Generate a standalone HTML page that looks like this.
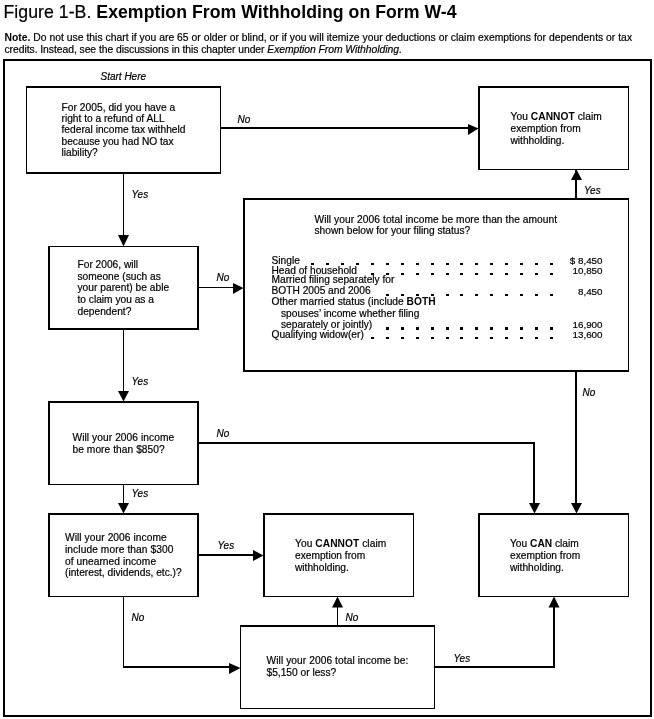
<!DOCTYPE html>
<html><head><meta charset="utf-8"><style>
html,body{margin:0;padding:0;background:#fff;}
body{width:654px;height:719px;overflow:hidden;}
svg{display:block;will-change:transform;}
text{font-family:"Liberation Sans",sans-serif;fill:#000;stroke:#000;stroke-width:0.2px;}
tspan[font-weight="bold"]{stroke-width:0;}
</style></head><body>
<svg width="654" height="719" viewBox="0 0 654 719">
<rect x="0" y="0" width="654" height="719" fill="#fff"/>
<g fill="#000" shape-rendering="crispEdges">
<rect x="3" y="59" width="649" height="2"/>
<rect x="3" y="715" width="649" height="2"/>
<rect x="3" y="59" width="2" height="658"/>
<rect x="650" y="59" width="2" height="658"/>
<rect x="26" y="86" width="195" height="2"/>
<rect x="26" y="172" width="195" height="2"/>
<rect x="26" y="86" width="1" height="88"/>
<rect x="220" y="86" width="1" height="88"/>
<rect x="478" y="86" width="151" height="2"/>
<rect x="478" y="169" width="151" height="1"/>
<rect x="478" y="86" width="2" height="84"/>
<rect x="628" y="86" width="1" height="84"/>
<rect x="48" y="246" width="151" height="1"/>
<rect x="48" y="328" width="151" height="2"/>
<rect x="48" y="246" width="2" height="84"/>
<rect x="197" y="246" width="2" height="84"/>
<rect x="243" y="198" width="386" height="2"/>
<rect x="243" y="370" width="386" height="2"/>
<rect x="243" y="198" width="2" height="174"/>
<rect x="628" y="198" width="1" height="174"/>
<rect x="48" y="401" width="151" height="2"/>
<rect x="48" y="484" width="151" height="1"/>
<rect x="48" y="401" width="2" height="84"/>
<rect x="197" y="401" width="2" height="84"/>
<rect x="48" y="513" width="151" height="2"/>
<rect x="48" y="596" width="151" height="1"/>
<rect x="48" y="513" width="2" height="84"/>
<rect x="197" y="513" width="2" height="84"/>
<rect x="263" y="513" width="151" height="2"/>
<rect x="263" y="596" width="151" height="1"/>
<rect x="263" y="513" width="2" height="84"/>
<rect x="413" y="513" width="1" height="84"/>
<rect x="478" y="513" width="151" height="2"/>
<rect x="478" y="596" width="151" height="1"/>
<rect x="478" y="513" width="2" height="84"/>
<rect x="628" y="513" width="1" height="84"/>
<rect x="240" y="625" width="195" height="2"/>
<rect x="240" y="708" width="195" height="1"/>
<rect x="240" y="625" width="1" height="84"/>
<rect x="434" y="625" width="1" height="84"/>
<rect x="221" y="127" width="250" height="2"/>
<rect x="123" y="174" width="1" height="67"/>
<rect x="199" y="287" width="38" height="1"/>
<rect x="575" y="170" width="2" height="28"/>
<rect x="123" y="330" width="1" height="66"/>
<rect x="575" y="372" width="2" height="135"/>
<rect x="199" y="442" width="336" height="2"/>
<rect x="533" y="442" width="2" height="65"/>
<rect x="123" y="485" width="1" height="22"/>
<rect x="199" y="554" width="58" height="2"/>
<rect x="123" y="597" width="1" height="71"/>
<rect x="123" y="666" width="110" height="2"/>
<rect x="337" y="600" width="1" height="25"/>
<rect x="435" y="666" width="120" height="2"/>
<rect x="553" y="600" width="2" height="68"/>
<rect x="311" y="263" width="3" height="2"/>
<rect x="326" y="263" width="3" height="2"/>
<rect x="341" y="263" width="3" height="2"/>
<rect x="356" y="263" width="3" height="2"/>
<rect x="371" y="263" width="3" height="2"/>
<rect x="386" y="263" width="3" height="2"/>
<rect x="401" y="263" width="3" height="2"/>
<rect x="416" y="263" width="3" height="2"/>
<rect x="431" y="263" width="3" height="2"/>
<rect x="446" y="263" width="3" height="2"/>
<rect x="460" y="263" width="3" height="2"/>
<rect x="475" y="263" width="3" height="2"/>
<rect x="490" y="263" width="3" height="2"/>
<rect x="505" y="263" width="3" height="2"/>
<rect x="520" y="263" width="3" height="2"/>
<rect x="535" y="263" width="3" height="2"/>
<rect x="550" y="263" width="3" height="2"/>
<rect x="371" y="273" width="3" height="2"/>
<rect x="386" y="273" width="3" height="2"/>
<rect x="401" y="273" width="3" height="2"/>
<rect x="416" y="273" width="3" height="2"/>
<rect x="431" y="273" width="3" height="2"/>
<rect x="446" y="273" width="3" height="2"/>
<rect x="460" y="273" width="3" height="2"/>
<rect x="475" y="273" width="3" height="2"/>
<rect x="490" y="273" width="3" height="2"/>
<rect x="505" y="273" width="3" height="2"/>
<rect x="520" y="273" width="3" height="2"/>
<rect x="535" y="273" width="3" height="2"/>
<rect x="550" y="273" width="3" height="2"/>
<rect x="386" y="294" width="3" height="2"/>
<rect x="401" y="294" width="3" height="2"/>
<rect x="416" y="294" width="3" height="2"/>
<rect x="431" y="294" width="3" height="2"/>
<rect x="446" y="294" width="3" height="2"/>
<rect x="460" y="294" width="3" height="2"/>
<rect x="475" y="294" width="3" height="2"/>
<rect x="490" y="294" width="3" height="2"/>
<rect x="505" y="294" width="3" height="2"/>
<rect x="520" y="294" width="3" height="2"/>
<rect x="535" y="294" width="3" height="2"/>
<rect x="550" y="294" width="3" height="2"/>
<rect x="386" y="327" width="3" height="3"/>
<rect x="401" y="327" width="3" height="3"/>
<rect x="416" y="327" width="3" height="3"/>
<rect x="431" y="327" width="3" height="3"/>
<rect x="446" y="327" width="3" height="3"/>
<rect x="460" y="327" width="3" height="3"/>
<rect x="475" y="327" width="3" height="3"/>
<rect x="490" y="327" width="3" height="3"/>
<rect x="505" y="327" width="3" height="3"/>
<rect x="520" y="327" width="3" height="3"/>
<rect x="535" y="327" width="3" height="3"/>
<rect x="550" y="327" width="3" height="3"/>
<rect x="371" y="337" width="3" height="2"/>
<rect x="386" y="337" width="3" height="2"/>
<rect x="401" y="337" width="3" height="2"/>
<rect x="416" y="337" width="3" height="2"/>
<rect x="431" y="337" width="3" height="2"/>
<rect x="446" y="337" width="3" height="2"/>
<rect x="460" y="337" width="3" height="2"/>
<rect x="475" y="337" width="3" height="2"/>
<rect x="490" y="337" width="3" height="2"/>
<rect x="505" y="337" width="3" height="2"/>
<rect x="520" y="337" width="3" height="2"/>
<rect x="535" y="337" width="3" height="2"/>
<rect x="550" y="337" width="3" height="2"/>
</g>
<g fill="#000">
<polygon points="468,124 478.5,128.5 468,135"/>
<polygon points="233,283 243.5,288 233,294"/>
<polygon points="253,550 263.5,555.5 253,561"/>
<polygon points="229,663 240.5,668 229,674"/>
<polygon points="118,235 129,235 123.5,246.5"/>
<polygon points="118,391 129,391 123.5,401.5"/>
<polygon points="118,503 129,503 123.5,513.5"/>
<polygon points="529,503 540,503 534.5,513.5"/>
<polygon points="571,503 582,503 576.5,513.5"/>
<polygon points="571,180 582,180 576.5,169.5"/>
<polygon points="332,607.5 343,607.5 337.5,596.5"/>
<polygon points="548.5,607.5 559.5,607.5 554.0,596.5"/>
</g>
<text id="t0" x="3.5" y="18" font-size="17.7" font-weight="normal" font-style="normal" text-anchor="start" textLength="453.12" lengthAdjust="spacing">Figure 1-B. <tspan font-weight="bold">Exemption From Withholding on Form W-4</tspan></text>
<text id="t1" x="4.5" y="40.5" font-size="10.35" font-weight="normal" font-style="normal" text-anchor="start" textLength="627.55" lengthAdjust="spacing"><tspan font-weight="bold">Note.</tspan> Do not use this chart if you are 65 or older or blind, or if you will itemize your deductions or claim exemptions for dependents or tax</text>
<text id="t2" x="4.5" y="52.5" font-size="10.35" font-weight="normal" font-style="normal" text-anchor="start" textLength="397.23" lengthAdjust="spacing">credits. Instead, see the discussions in this chapter under <tspan font-style="italic">Exemption From Withholding</tspan>.</text>
<text id="t3" x="100.5" y="80" font-size="10.0" font-weight="normal" font-style="italic" text-anchor="start">Start Here</text>
<text id="t4" x="237.5" y="123" font-size="10.0" font-weight="normal" font-style="italic" text-anchor="start">No</text>
<text id="t5" x="131.5" y="198" font-size="10.0" font-weight="normal" font-style="italic" text-anchor="start">Yes</text>
<text id="t6" x="584" y="193.5" font-size="10.0" font-weight="normal" font-style="italic" text-anchor="start">Yes</text>
<text id="t7" x="216.5" y="281" font-size="10.0" font-weight="normal" font-style="italic" text-anchor="start">No</text>
<text id="t8" x="131.5" y="385" font-size="10.0" font-weight="normal" font-style="italic" text-anchor="start">Yes</text>
<text id="t9" x="582.5" y="396" font-size="10.0" font-weight="normal" font-style="italic" text-anchor="start">No</text>
<text id="t10" x="216.5" y="437" font-size="10.0" font-weight="normal" font-style="italic" text-anchor="start">No</text>
<text id="t11" x="131.5" y="497" font-size="10.0" font-weight="normal" font-style="italic" text-anchor="start">Yes</text>
<text id="t12" x="217.5" y="549" font-size="10.0" font-weight="normal" font-style="italic" text-anchor="start">Yes</text>
<text id="t13" x="131.5" y="621" font-size="10.0" font-weight="normal" font-style="italic" text-anchor="start">No</text>
<text id="t14" x="345.5" y="621" font-size="10.0" font-weight="normal" font-style="italic" text-anchor="start">No</text>
<text id="t15" x="453.5" y="662" font-size="10.0" font-weight="normal" font-style="italic" text-anchor="start">Yes</text>
<text id="t16" x="61.5" y="110.5" font-size="10.2" font-weight="normal" font-style="normal" text-anchor="start" textLength="113.72" lengthAdjust="spacing">For 2005, did you have a</text>
<text id="t17" x="61.5" y="121.9" font-size="10.2" font-weight="normal" font-style="normal" text-anchor="start">right to a refund of ALL</text>
<text id="t18" x="61.5" y="133.3" font-size="10.2" font-weight="normal" font-style="normal" text-anchor="start" textLength="123.95" lengthAdjust="spacing">federal income tax withheld</text>
<text id="t19" x="61.5" y="144.7" font-size="10.2" font-weight="normal" font-style="normal" text-anchor="start">because you had NO tax</text>
<text id="t20" x="61.5" y="156.1" font-size="10.2" font-weight="normal" font-style="normal" text-anchor="start">liability?</text>
<text id="t21" x="510.5" y="120.0" font-size="10.2" font-weight="normal" font-style="normal" text-anchor="start" textLength="91.22" lengthAdjust="spacing">You <tspan font-weight="bold">CANNOT</tspan> claim</text>
<text id="t22" x="510.5" y="131.8" font-size="10.2" font-weight="normal" font-style="normal" text-anchor="start">exemption from</text>
<text id="t23" x="510.5" y="143.6" font-size="10.2" font-weight="normal" font-style="normal" text-anchor="start">withholding.</text>
<text id="t24" x="77.5" y="268.2" font-size="10.2" font-weight="normal" font-style="normal" text-anchor="start">For 2006, will</text>
<text id="t25" x="77.5" y="279.8" font-size="10.2" font-weight="normal" font-style="normal" text-anchor="start">someone (such as</text>
<text id="t26" x="77.5" y="291.4" font-size="10.2" font-weight="normal" font-style="normal" text-anchor="start" textLength="91.69" lengthAdjust="spacing">your parent) be able</text>
<text id="t27" x="77.5" y="303.0" font-size="10.2" font-weight="normal" font-style="normal" text-anchor="start">to claim you as a</text>
<text id="t28" x="77.5" y="314.6" font-size="10.2" font-weight="normal" font-style="normal" text-anchor="start">dependent?</text>
<text id="t29" x="314.5" y="223.0" font-size="10.2" font-weight="normal" font-style="normal" text-anchor="start" textLength="242.67" lengthAdjust="spacing">Will your 2006 total income be more than the amount</text>
<text id="t30" x="314.5" y="233.5" font-size="10.2" font-weight="normal" font-style="normal" text-anchor="start">shown below for your filing status?</text>
<text id="t31" x="271.5" y="263.5" font-size="10.2" font-weight="normal" font-style="normal" text-anchor="start">Single</text>
<text id="t32" x="271.5" y="273.7" font-size="10.2" font-weight="normal" font-style="normal" text-anchor="start">Head of household</text>
<text id="t33" x="271.5" y="282.5" font-size="10.2" font-weight="normal" font-style="normal" text-anchor="start" textLength="122.88" lengthAdjust="spacing">Married filing separately for</text>
<text id="t34" x="271.5" y="294.3" font-size="10.2" font-weight="normal" font-style="normal" text-anchor="start">BOTH 2005 and 2006</text>
<text id="t35" x="271.5" y="305" font-size="10.2" font-weight="normal" font-style="normal" text-anchor="start" textLength="164.08" lengthAdjust="spacing">Other married status (include <tspan font-weight="bold">BOTH</tspan></text>
<text id="t36" x="281" y="316.5" font-size="10.2" font-weight="normal" font-style="normal" text-anchor="start">spouses’ income whether filing</text>
<text id="t37" x="281" y="327.6" font-size="10.2" font-weight="normal" font-style="normal" text-anchor="start">separately or jointly)</text>
<text id="t38" x="271.5" y="338.3" font-size="10.2" font-weight="normal" font-style="normal" text-anchor="start">Qualifying widow(er)</text>
<text id="t39" x="602.5" y="264.3" font-size="9.8" font-weight="normal" font-style="normal" text-anchor="end">$ 8,450</text>
<text id="t40" x="602.5" y="274" font-size="9.8" font-weight="normal" font-style="normal" text-anchor="end">10,850</text>
<text id="t41" x="602.5" y="294.9" font-size="9.8" font-weight="normal" font-style="normal" text-anchor="end">8,450</text>
<text id="t42" x="602.5" y="327.5" font-size="9.8" font-weight="normal" font-style="normal" text-anchor="end">16,900</text>
<text id="t43" x="602.5" y="338.2" font-size="9.8" font-weight="normal" font-style="normal" text-anchor="end">13,600</text>
<text id="t44" x="72.5" y="440.6" font-size="10.2" font-weight="normal" font-style="normal" text-anchor="start" textLength="101.72" lengthAdjust="spacing">Will your 2006 income</text>
<text id="t45" x="72.5" y="452.5" font-size="10.2" font-weight="normal" font-style="normal" text-anchor="start" textLength="92.20" lengthAdjust="spacing">be more than $850?</text>
<text id="t46" x="65" y="541.0" font-size="10.2" font-weight="normal" font-style="normal" text-anchor="start" textLength="101.72" lengthAdjust="spacing">Will your 2006 income</text>
<text id="t47" x="65" y="552.8" font-size="10.2" font-weight="normal" font-style="normal" text-anchor="start" textLength="108.48" lengthAdjust="spacing">include more than $300</text>
<text id="t48" x="65" y="564.6" font-size="10.2" font-weight="normal" font-style="normal" text-anchor="start" textLength="91.06" lengthAdjust="spacing">of unearned income</text>
<text id="t49" x="65" y="576.4" font-size="10.2" font-weight="normal" font-style="normal" text-anchor="start">(interest, dividends, etc.)?</text>
<text id="t50" x="295" y="546.7" font-size="10.2" font-weight="normal" font-style="normal" text-anchor="start" textLength="91.22" lengthAdjust="spacing">You <tspan font-weight="bold">CANNOT</tspan> claim</text>
<text id="t51" x="295" y="558.7" font-size="10.2" font-weight="normal" font-style="normal" text-anchor="start">exemption from</text>
<text id="t52" x="295" y="570.7" font-size="10.2" font-weight="normal" font-style="normal" text-anchor="start">withholding.</text>
<text id="t53" x="510" y="546.7" font-size="10.2" font-weight="normal" font-style="normal" text-anchor="start">You <tspan font-weight="bold">CAN</tspan> claim</text>
<text id="t54" x="510" y="558.7" font-size="10.2" font-weight="normal" font-style="normal" text-anchor="start">exemption from</text>
<text id="t55" x="510" y="570.7" font-size="10.2" font-weight="normal" font-style="normal" text-anchor="start">withholding.</text>
<text id="t56" x="266.5" y="663.8" font-size="10.2" font-weight="normal" font-style="normal" text-anchor="start" textLength="141.81" lengthAdjust="spacing">Will your 2006 total income be:</text>
<text id="t57" x="266.5" y="675.5" font-size="10.2" font-weight="normal" font-style="normal" text-anchor="start">$5,150 or less?</text>
</svg>
</body></html>
